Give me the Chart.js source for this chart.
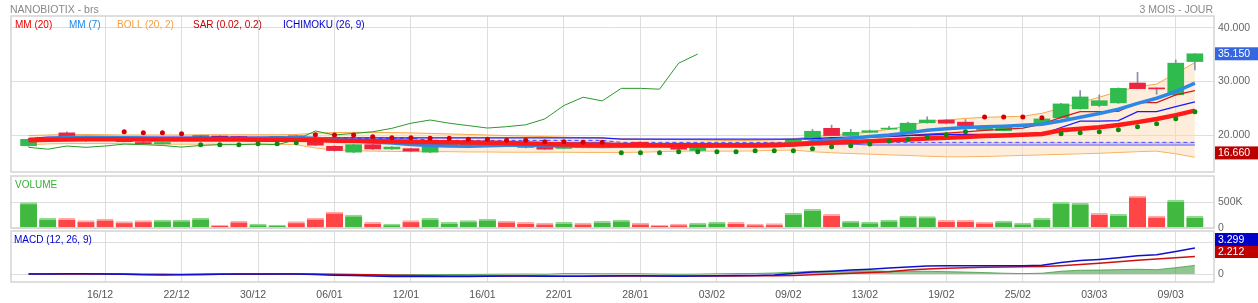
<!DOCTYPE html>
<html>
<head>
<meta charset="utf-8">
<script src="https://cdn.jsdelivr.net/npm/chart.js@4.4.1/dist/chart.umd.min.js"></script>
<style>
  body { margin: 0; background: #fff; font-family: "Liberation Sans", Arial, sans-serif; }
  #wrap { position: relative; width: 1258px; height: 303px; overflow: hidden; }
  canvas { position: absolute; left: 0; top: 0; }
  .t { position: absolute; font-size: 10px; line-height: 12px; white-space: nowrap; }
</style>
</head>
<body>
<div id="wrap">
  <canvas id="cMain" width="1258" height="303"></canvas>
  <canvas id="cVol" width="1258" height="303"></canvas>
  <canvas id="cMacd" width="1258" height="303"></canvas>
  <div class="t" style="left:10px;top:3px;color:#888;font-size:10.5px">NANOBIOTIX - brs</div>
  <div class="t" style="right:45px;top:3px;color:#888;font-size:10.5px">3 MOIS - JOUR</div>
  <div class="t" style="left:15px;top:19px;color:#ee0000">MM (20)</div>
  <div class="t" style="left:69px;top:19px;color:#1e88e5">MM (7)</div>
  <div class="t" style="left:117px;top:19px;color:#f5a040">BOLL (20, 2)</div>
  <div class="t" style="left:193px;top:19px;color:#cc0000">SAR (0.02, 0.2)</div>
  <div class="t" style="left:283px;top:19px;color:#0000cc">ICHIMOKU (26, 9)</div>
  <div class="t" style="left:15px;top:179px;color:#33b033">VOLUME</div>
  <div class="t" style="left:14px;top:234px;color:#0000cc">MACD (12, 26, 9)</div>
</div>
<script>
// ---- data ----
const tickIdx = [4, 8, 12, 16, 20, 24, 28, 32, 36, 40, 44, 48, 52, 56, 60];
const tickDates = ["16/12", "22/12", "30/12", "06/01", "12/01", "16/01", "22/01", "28/01",
  "03/02", "09/02", "13/02", "19/02", "25/02", "03/03", "09/03"];

const opens = [18.0, 19.2, 20.4, 19.55, 19.3, 19.05, 18.6, 18.35, 19.2, 19.75,
  19.8, 19.7, 19.4, 19.5, 19.85, 19.0, 17.9, 16.8, 18.2, 17.4,
  17.45, 16.8, 18.05, 18.2, 18.3, 18.4, 18.0, 17.7, 17.5, 17.9,
  17.75, 18.0, 18.65, 18.4, 17.8, 17.1, 17.85, 18.15, 18.05, 18.35,
  18.45, 19.25, 21.25, 19.9, 20.5, 21.1, 20.5, 22.3, 22.8, 22.4,
  20.95, 20.8, 21.7, 22.2, 23.2, 24.9, 25.5, 26.0, 29.7, 28.7,
  27.5, 33.7];
const highs = [19.3, 19.5, 20.6, 19.6, 19.4, 19.1, 18.7, 18.7, 19.6, 20.0,
  19.9, 19.75, 19.6, 19.7, 19.95, 19.1, 18.0, 18.3, 18.3, 17.85,
  17.5, 18.2, 18.3, 18.45, 18.55, 18.5, 18.05, 17.8, 18.05, 18.0,
  18.05, 18.4, 18.75, 18.5, 17.9, 17.9, 18.2, 18.25, 18.15, 18.45,
  19.15, 21.05, 21.85, 21.05, 20.9, 21.6, 22.4, 23.4, 22.9, 22.9,
  21.4, 21.65, 22.0, 23.1, 25.9, 28.3, 27.5, 28.8, 31.7, 28.8,
  34.0, 35.2];
const lows = [17.9, 19.1, 19.5, 18.8, 19.0, 18.7, 18.3, 18.3, 19.1, 19.7,
  19.35, 19.35, 19.3, 19.45, 19.5, 18.0, 17.0, 16.7, 17.3, 17.3,
  16.9, 16.7, 17.95, 18.1, 18.2, 18.0, 17.6, 17.3, 17.45, 17.6,
  17.7, 17.95, 18.2, 18.1, 17.25, 17.05, 17.8, 17.9, 17.85, 18.2,
  18.4, 19.2, 19.85, 19.85, 20.45, 21.0, 20.45, 22.2, 22.1, 21.7,
  20.9, 20.75, 21.6, 22.1, 23.1, 24.8, 25.3, 25.9, 28.6, 27.6,
  27.4, 32.15];
const closes = [19.2, 19.35, 19.6, 19.3, 19.15, 18.75, 18.35, 18.6, 19.5, 19.85,
  19.4, 19.4, 19.5, 19.6, 19.55, 18.1, 17.1, 18.2, 17.4, 17.75,
  17.0, 18.1, 18.2, 18.35, 18.45, 18.1, 17.7, 17.35, 17.95, 17.7,
  17.95, 18.3, 18.3, 18.2, 17.35, 17.8, 18.1, 18.0, 17.95, 18.3,
  19.05, 20.7, 19.9, 20.5, 20.8, 21.25, 22.2, 22.8, 22.2, 21.75,
  21.3, 21.55, 21.9, 23.0, 25.8, 27.1, 26.4, 28.7, 28.65, 28.6,
  33.4, 35.15];

// volume in thousands, and whether the bar is green (1) or red (0)
const volumes = [490, 186, 186, 141, 173, 122, 141, 154, 154, 192,
  58, 135, 77, 58, 122, 192, 308, 250, 109, 77,
  141, 186, 109, 141, 173, 135, 109, 96, 109, 96,
  128, 154, 96, 58, 77, 96, 115, 109, 77, 83,
  282, 359, 263, 135, 115, 154, 231, 218, 147, 147,
  115, 135, 96, 186, 494, 481, 282, 263, 615, 231,
  532, 225];
const volUp = [1, 1, 0, 0, 0, 0, 0, 1, 1, 1, 0, 0, 1, 1, 0, 0, 0, 1, 0, 1,
  0, 1, 1, 1, 1, 0, 0, 0, 1, 0, 1, 1, 0, 0, 0, 1, 1, 0, 0, 0,
  1, 1, 0, 1, 1, 1, 1, 1, 0, 0, 0, 1, 1, 1, 1, 1, 0, 1, 0, 0,
  1, 1];

const mm20 = [19.0, 19.1, 19.15, 19.2, 19.2, 19.2, 19.15, 19.15, 19.15, 19.15,
  19.15, 19.15, 19.1, 19.1, 19.1, 19.05, 18.95, 18.9, 18.85, 18.8,
  18.7, 18.7, 18.65, 18.6, 18.55, 18.5, 18.4, 18.3, 18.25, 18.2,
  18.15, 18.15, 18.1, 18.1, 18.05, 18.05, 18.1, 18.1, 18.1, 18.15,
  18.25, 18.4, 18.55, 18.7, 18.85, 19.0, 19.15, 19.35, 19.5, 19.65,
  19.8, 19.9, 20.05, 20.2, 20.9, 21.15, 21.45, 21.85, 22.4, 23.0,
  23.7, 24.55];
const mm7 = [19.0, 19.3, 19.55, 19.6, 19.55, 19.5, 19.4, 19.3, 19.25, 19.2,
  19.2, 19.25, 19.3, 19.4, 19.5, 19.4, 19.1, 18.9, 18.7, 18.5,
  18.25, 18.05, 17.95, 17.9, 18.0, 18.1, 18.1, 18.0, 17.95, 17.9,
  17.85, 17.9, 17.95, 18.0, 17.95, 17.9, 17.95, 17.95, 17.95, 18.0,
  18.15, 18.75, 19.05, 19.4, 19.7, 20.0, 20.4, 20.9, 21.15, 21.4,
  21.55, 21.65, 21.8, 22.0, 22.6, 23.3, 24.0, 24.8, 25.9, 26.86,
  28.1, 29.66];
const bollUp = [19.9, 20.0, 20.1, 20.1, 20.05, 20.0, 20.0, 20.0, 20.0, 20.05,
  20.05, 20.05, 20.05, 20.05, 20.1, 20.35, 20.45, 20.5, 20.5, 20.45,
  20.4, 20.3, 20.2, 20.1, 20.0, 19.9, 19.8, 19.7, 19.6, 19.5,
  19.4, 19.3, 19.25, 19.2, 19.15, 19.1, 19.0, 18.95, 19.0, 19.1,
  19.3, 19.7, 19.9, 20.2, 20.55, 21.05, 21.75, 22.5, 22.8, 23.1,
  23.3, 23.4, 23.5, 24.05, 25.0, 26.05, 27.05, 28.1, 29.0, 29.5,
  31.5, 33.5];
const bollLow = [18.2, 18.35, 18.4, 18.4, 18.4, 18.4, 18.35, 18.3, 18.3, 18.3,
  18.3, 18.3, 18.3, 18.3, 18.2, 17.6, 17.2, 17.1, 17.0, 16.95,
  16.9, 16.9, 16.9, 16.85, 16.85, 16.8, 16.8, 16.8, 16.8, 16.75,
  16.75, 16.75, 16.8, 16.9, 17.0, 17.0, 17.0, 17.0, 17.05, 17.15,
  17.2, 16.9, 16.7, 16.55, 16.45, 16.3, 16.2, 16.05, 15.95, 15.95,
  16.0, 16.1, 16.2, 16.3, 16.4, 16.5, 16.6, 16.75, 16.9, 17.0,
  16.5, 15.85];
const sar = [null, null, null, null, null, 20.62, 20.44, 20.44, 20.25, 18.19,
  18.19, 18.19, 18.38, 18.38, 18.57, 20.06, 20.0, 20.0, 19.69, 19.5,
  19.5, 19.38, 19.38, 19.19, 19.19, 19.0, 19.0, 18.75, 18.75, 18.65,
  18.65, 16.7, 16.7, 16.7, 16.88, 16.88, 16.88, 16.88, 17.07, 17.07,
  17.07, 17.44, 17.82, 18.0, 18.32, 18.88, 19.19, 19.56, 20.06, 20.62,
  23.36, 23.36, 23.36, 23.24, 20.25, 20.44, 20.62, 21.0, 21.55, 22.1,
  23.05, 24.36];
const tenkan = [19.1, 19.2, 19.5, 19.5, 19.5, 19.5, 19.5, 19.5, 19.5, 19.4,
  19.4, 19.4, 19.4, 19.4, 19.4, 19.3, 19.0, 18.8, 18.8, 18.8,
  18.8, 18.7, 18.7, 18.7, 18.7, 18.7, 18.45, 18.45, 18.45, 18.45,
  18.45, 18.4, 18.4, 18.4, 18.4, 18.4, 18.4, 18.4, 18.4, 18.4,
  18.4, 18.9, 19.3, 19.4, 19.55, 19.7, 19.95, 20.15, 20.35, 20.6,
  20.85, 21.05, 21.3, 22.05, 23.3, 24.36, 24.36, 24.4, 26.05, 26.05,
  27.5, 28.3];
const kijun = [19.3, 19.6, 19.6, 19.6, 19.6, 19.6, 19.6, 19.6, 19.6, 19.6,
  19.6, 19.6, 19.6, 19.6, 19.6, 19.45, 19.45, 19.45, 19.45, 19.45,
  19.45, 19.45, 19.45, 19.45, 19.45, 19.45, 19.45, 19.45, 19.45, 19.45,
  19.45, 19.25, 19.25, 19.25, 19.25, 19.25, 19.25, 19.25, 19.25, 19.25,
  19.25, 19.3, 19.5, 19.6, 19.7, 19.8, 19.9, 20.0, 20.1, 20.12,
  20.12, 20.12, 20.12, 20.12, 21.4, 22.6, 22.6, 22.7, 24.36, 24.36,
  25.3, 26.2];
const senkouA = [19.4, 19.4, 19.4, 19.4, 19.4, 19.4, 19.4, 19.4, 19.4, 19.4,
  19.4, 19.4, 19.4, 19.4, 19.4, 19.4, 19.4, 19.4, 19.4, 19.4,
  19.4, 19.0, 19.0, 19.0, 19.0, 19.0, 19.0, 19.0, 19.0, 19.0,
  19.0, 18.63, 18.63, 18.63, 18.63, 18.63, 18.63, 18.63, 18.63, 18.63,
  18.63, 18.63, 18.63, 18.63, 18.63, 18.63, 18.63, 18.63, 18.63, 18.63,
  18.63, 18.63, 18.63, 18.63, 18.63, 18.63, 18.63, 18.63, 18.63, 18.63,
  18.63, 18.63];
const senkouB = [19.1, 19.1, 19.1, 19.1, 19.1, 19.1, 19.1, 19.1, 19.1, 19.1,
  19.1, 19.1, 19.1, 19.1, 19.1, 19.1, 19.1, 19.1, 19.1, 19.1,
  19.1, 18.6, 18.6, 18.6, 18.6, 18.6, 18.6, 18.6, 18.6, 18.6,
  18.6, 18.3, 18.3, 18.3, 18.3, 18.3, 18.3, 18.3, 18.3, 18.3,
  18.3, 18.3, 18.3, 18.3, 18.13, 18.13, 18.13, 18.13, 18.13, 18.13,
  18.13, 18.13, 18.13, 18.13, 18.13, 18.13, 18.13, 18.13, 18.13, 18.13,
  18.13, 18.13];
const chikou = [17.7, 17.35, 17.95, 17.7, 17.95, 18.3, 18.2, 18.05, 17.75, 18.05,
  18.2, 18.2, 18.3, 18.2, 19.1, 20.75, 20.0, 20.3, 20.6, 21.25,
  22.2, 22.8, 22.2, 21.75, 21.3, 21.55, 21.9, 23.0, 25.5, 27.05,
  26.36, 28.7, 28.7, 28.55, 33.4, 35.1];

const macd = [0, 0, 0.02, 0.02, 0, -0.02, -0.08, -0.12, -0.1, -0.05,
  -0.02, 0, 0, 0, 0, -0.05, -0.15, -0.2, -0.25, -0.3,
  -0.33, -0.33, -0.33, -0.3, -0.28, -0.26, -0.26, -0.28, -0.28, -0.28,
  -0.25, -0.22, -0.22, -0.24, -0.28, -0.26, -0.22, -0.2, -0.18, -0.12,
  0.05, 0.25, 0.35, 0.5, 0.6, 0.75, 0.9, 1.02, 1.05, 1.05,
  1.04, 1.04, 1.06, 1.1, 1.45, 1.7, 1.85, 2.05, 2.3, 2.45,
  2.85, 3.3];
const signal = [0, 0, 0, 0, 0, 0, -0.02, -0.04, -0.05, -0.05,
  -0.04, -0.03, -0.02, -0.01, 0, 0, -0.03, -0.06, -0.09, -0.15,
  -0.2, -0.23, -0.25, -0.25, -0.25, -0.25, -0.26, -0.26, -0.27, -0.27,
  -0.26, -0.25, -0.25, -0.25, -0.25, -0.25, -0.24, -0.24, -0.23, -0.22,
  -0.18, -0.1, 0.0, 0.1, 0.2, 0.3, 0.5, 0.62, 0.72, 0.8,
  0.86, 0.9, 0.93, 0.95, 1.05, 1.2, 1.35, 1.55, 1.75, 1.9,
  2.05, 2.21];
const hist = [0, 0, 0.02, 0.02, 0, -0.02, -0.06, -0.08, -0.05, 0,
  0.02, 0.03, 0.02, 0.01, 0, -0.05, -0.12, -0.14, -0.16, -0.15,
  -0.13, -0.1, -0.08, -0.05, -0.03, -0.01, 0, -0.02, 0.05, 0.05,
  0.03, 0.04, 0.03, 0, -0.03, -0.01, 0.03, 0.05, 0.07, 0.13,
  0.23, 0.35, 0.35, 0.4, 0.4, 0.35, 0.35, 0.35, 0.3, 0.25,
  0.18, 0.1, 0.05, 0.1, 0.35, 0.48, 0.5, 0.55, 0.6, 0.55,
  0.8, 1.09];

const lastClose = 35.15;
const lowMark = 16.66;
const macdLast = 3.299;
const signalLast = 2.212;

// ---- helpers ----
const GREEN = "#30bb4e", RED = "#ec2442";
const GRID = "#dedede";
const pts = arr => arr.map((v, i) => ({ x: i, y: v }));
const fmt3 = v => v.toFixed(3);

function xScale(showLabels) {
  return {
    type: "linear", min: -0.92, max: 62, offset: false,
    afterBuildTicks: s => { s.ticks = tickIdx.map(v => ({ value: v })); },
    afterFit: s => { s.height = showLabels ? 21 : 0; },
    grid: { color: GRID, drawTicks: false, offset: false },
    border: { display: false },
    ticks: showLabels
      ? { color: "#555", font: { size: 10.5 }, padding: 7, labelOffset: -5, maxRotation: 0, autoSkip: false,
          callback: (v, i) => tickDates[i] }
      : { display: false }
  };
}

function yScale(min, max, ticks, fmt) {
  return {
    type: "linear", position: "right", min: min, max: max,
    afterBuildTicks: s => { s.ticks = ticks.map(v => ({ value: v })); },
    afterFit: s => { s.width = 44; },
    grid: { color: GRID, drawTicks: false },
    border: { display: false },
    ticks: { color: "#666", font: { size: 10.5 }, padding: 4, callback: fmt }
  };
}

const frame = {
  id: "frame",
  afterDraw(chart) {
    const a = chart.chartArea, ctx = chart.ctx;
    ctx.save();
    ctx.strokeStyle = "#d4d4d4";
    ctx.lineWidth = 1.5;
    ctx.strokeRect(a.left, a.top, a.right - a.left, a.bottom - a.top);
    ctx.restore();
  }
};

function valueBox(ctx, y, text, bg) {
  ctx.fillStyle = bg;
  ctx.fillRect(1215, y - 6.5, 43, 13);
  ctx.fillStyle = "#fff";
  ctx.font = '10.5px "Liberation Sans", Arial, sans-serif';
  ctx.textBaseline = "middle";
  ctx.textAlign = "left";
  ctx.fillText(text, 1218, y + 0.5);
}

const lineDs = (data, color, width, order, extra) => Object.assign({
  type: "line", data: pts(data), borderColor: color, borderWidth: width,
  pointRadius: 0, tension: 0, fill: false, order: order
}, extra || {});

const common = {
  type: "line",
  options: {
    responsive: false, animation: false, devicePixelRatio: 1,
    plugins: { legend: { display: false }, tooltip: { enabled: false } },
    events: []
  }
};

// ---- main price chart ----
const bodyColors = closes.map((c, i) => (c >= opens[i] ? GREEN : RED));
const sarColors = sar.map((s, i) => (s !== null && s < closes[i] ? "#0d8a0d" : "#d40000"));

new Chart(document.getElementById("cMain"), {
  type: "line",
  data: {
    datasets: [
      lineDs(bollUp, "#f7a84a", 1, 30, { fill: "+1", backgroundColor: "rgba(252,214,172,0.45)" }),
      lineDs(bollLow, "#f7a84a", 1, 30),
      lineDs(senkouA, "#4646ff", 1, 29, { borderDash: [4, 3], fill: "+1", backgroundColor: "rgba(140,140,255,0.35)" }),
      lineDs(senkouB, "#5a5aff", 1, 29),
      {
        type: "bar", data: lows.map((l, i) => ({ x: i, y: [l, highs[i]] })),
        backgroundColor: "#8492a8", barThickness: 1, grouped: false, order: 28
      },
      {
        type: "bar", data: opens.map((o, i) => ({ x: i, y: [o, closes[i]] })),
        backgroundColor: bodyColors, barThickness: 16, minBarLength: 1, grouped: false, order: 27
      },
      lineDs(chikou, "#2a9a2a", 1, 6),
      lineDs(kijun, "#1a1aff", 1.3, 5),
      lineDs(tenkan, "#d41a1a", 1.3, 5),
      lineDs(mm7, "#2b88e6", 3.5, 4),
      lineDs(mm20, "#ff1a1a", 4.5, 3),
      {
        type: "line", data: pts(sar), showLine: false, pointRadius: 2.5, pointBorderWidth: 0,
        pointBackgroundColor: sarColors, order: 1
      }
    ]
  },
  options: Object.assign({}, common.options, {
    layout: { padding: { left: 11, top: 16, bottom: 131, right: 0 } },
    scales: { x: xScale(false), y: yScale(13.1, 42.2, [20, 30, 40], fmt3) }
  }),
  plugins: [frame, {
    id: "priceBoxes",
    afterDraw(chart) {
      const y = chart.scales.y, ctx = chart.ctx;
      ctx.save();
      valueBox(ctx, y.getPixelForValue(lastClose), fmt3(lastClose), "#3366e0");
      valueBox(ctx, y.getPixelForValue(lowMark), fmt3(lowMark), "#bb0000");
      ctx.restore();
    }
  }]
});

// ---- volume ----
new Chart(document.getElementById("cVol"), {
  type: "line",
  data: {
    datasets: [{
      type: "bar", data: volumes.map((v, i) => ({ x: i, y: v * 1000 })),
      backgroundColor: volUp.map(u => (u ? "#41b941" : "#ff4545")),
      borderColor: volUp.map(u => (u ? "#90d890" : "#ffaaaa")),
      borderWidth: { top: 2, left: 0, right: 0, bottom: 0 }, borderSkipped: false,
      barThickness: 17, grouped: false
    }]
  },
  options: Object.assign({}, common.options, {
    layout: { padding: { left: 11, top: 176, bottom: 75, right: 0 } },
    scales: {
      x: xScale(false),
      y: yScale(0, 1000000, [0, 500000], v => (v === 0 ? "0" : v / 1000 + "K"))
    }
  }),
  plugins: [frame]
});

// ---- MACD ----
new Chart(document.getElementById("cMacd"), {
  type: "line",
  data: {
    datasets: [
      lineDs(hist, "rgba(60,150,60,0.75)", 1, 5, { fill: "origin", backgroundColor: "rgba(70,160,70,0.6)" }),
      lineDs(signal, "#cc1010", 1.5, 2),
      lineDs(macd, "#1010cc", 1.5, 1)
    ]
  },
  options: Object.assign({}, common.options, {
    layout: { padding: { left: 11, top: 231, bottom: 0, right: 0 } },
    scales: { x: xScale(true), y: yScale(-1.01, 5.44, [0, 4], v => String(v)) }
  }),
  plugins: [frame, {
    id: "macdBoxes",
    afterDraw(chart) {
      const y = chart.scales.y, ctx = chart.ctx;
      const yr = y.getPixelForValue(signalLast) - 5;
      const yb = Math.min(y.getPixelForValue(macdLast), yr - 12);
      ctx.save();
      valueBox(ctx, yr, fmt3(signalLast), "#c00000");
      valueBox(ctx, yb, fmt3(macdLast), "#0000c8");
      ctx.restore();
    }
  }]
});
</script>
</body>
</html>
